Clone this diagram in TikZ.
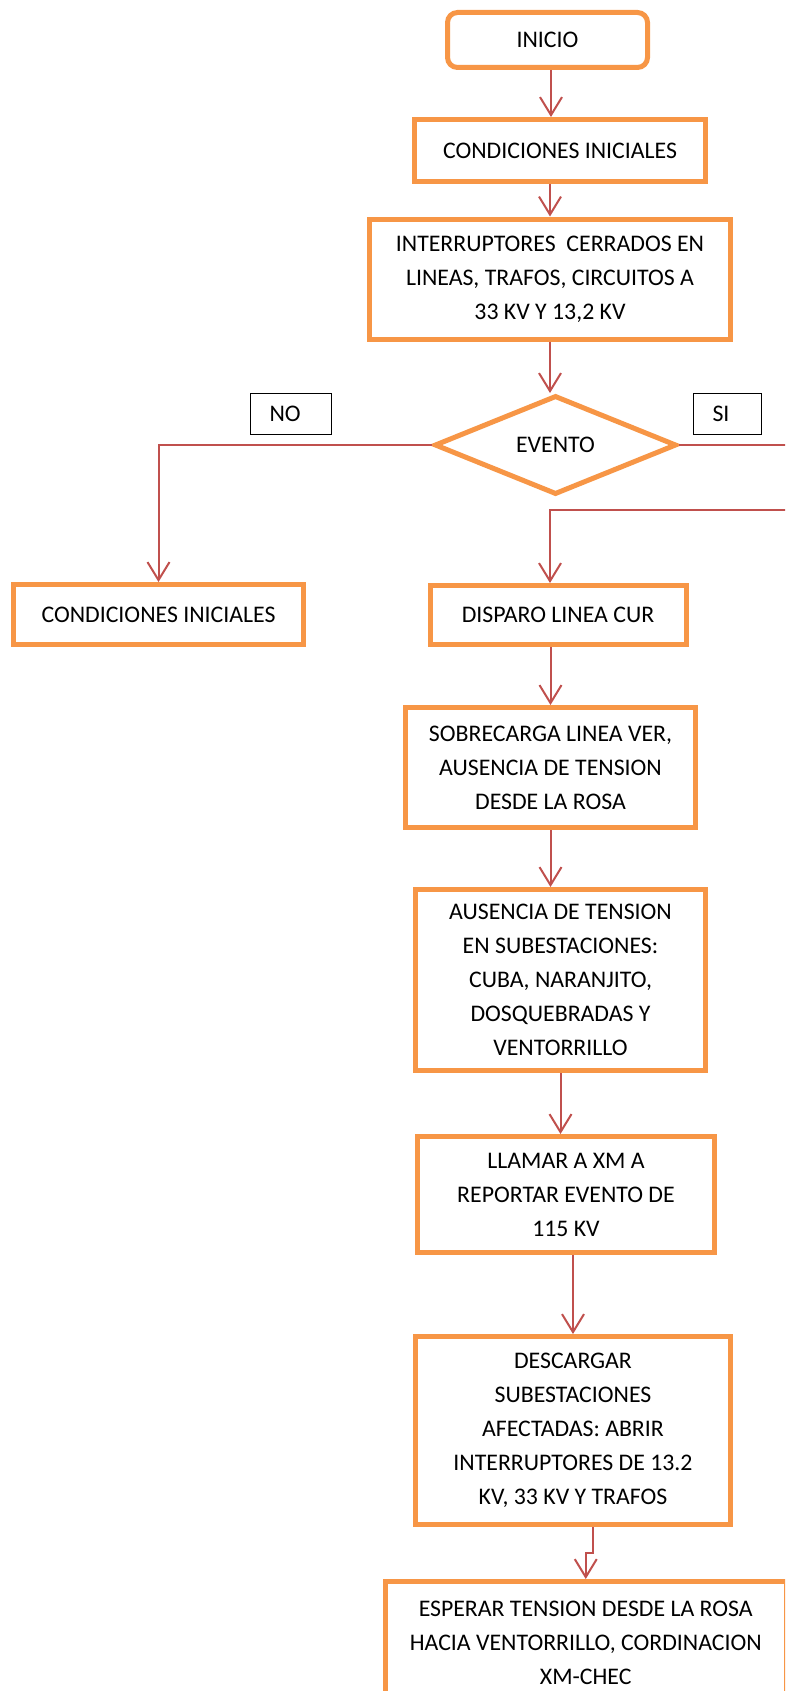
\documentclass[tikz,border=0pt]{standalone}
\usepackage{fontspec}
\setmainfont{Carlito}
\usetikzlibrary{shapes.geometric,arrows.meta}
\definecolor{naranja}{HTML}{F79646}
\definecolor{rojizo}{HTML}{C0504D}
\begin{document}
\begin{tikzpicture}[x=1pt, y=-1pt,
		caja/.style={draw=naranja, line width=5pt, fill=white, align=center, inner sep=0pt, font=\fontsize{23.8}{34}\selectfont},
		rombo/.style={diamond, draw=naranja, line width=5pt, fill=white, inner sep=0pt, aspect=2.4, font=\fontsize{23.8}{34}\selectfont},
		etiqueta/.style={draw=black, line width=1.2pt, fill=white, align=left, inner xsep=19pt, inner ysep=0pt, minimum height=41pt, font=\fontsize{23.8}{34}\selectfont},
		flecha/.style={draw=rojizo, line width=2pt, -{Straight Barb[length=18pt,width=22pt]}}]
			\useasboundingbox (0,0) rectangle (785,1691);
			\clip (0,0) rectangle (785,1691);% la hoja corta la caja final
			\node[caja, rounded corners=10pt, minimum width=200pt, minimum height=55pt] (inicio) at (547.5,40) {INICIO};
			\node[caja, minimum width=291pt, minimum height=62pt] (cond) at (560,150.5) {CONDICIONES INICIALES};
			\node[caja, minimum width=361pt, minimum height=120pt] (interr) at (550,279) {INTERRUPTORES \ CERRADOS EN\\LINEAS, TRAFOS, CIRCUITOS A\\33 KV Y 13,2 KV};
			\node[rombo, minimum width=242pt, minimum height=99pt] (evento) at (555.5,445) {EVENTO};
			\node[etiqueta, text width=43pt] (no) at (291,414) {NO};
			\node[etiqueta, text width=30pt] (si) at (727.5,414) {SI};
			\node[caja, minimum width=290pt, minimum height=60pt] (cond2) at (158.5,614.5) {CONDICIONES INICIALES};
			\node[caja, minimum width=256pt, minimum height=59pt] (disparo) at (558,615) {DISPARO LINEA CUR};
			\node[caja, minimum width=290pt, minimum height=120pt] (sobrec) at (550.5,767.5) {SOBRECARGA LINEA VER,\\AUSENCIA DE TENSION\\DESDE LA ROSA};
			\node[caja, minimum width=290pt, minimum height=181pt] (ausen) at (560.5,980) {AUSENCIA DE TENSION\\EN SUBESTACIONES:\\CUBA, NARANJITO,\\DOSQUEBRADAS Y\\VENTORRILLO};
			\node[caja, minimum width=297pt, minimum height=116pt] (llamar) at (566,1194.5) {LLAMAR A XM A\\REPORTAR EVENTO DE\\115 KV};
			\node[caja, minimum width=315pt, minimum height=188pt] (descar) at (573,1430.5) {DESCARGAR\\SUBESTACIONES\\AFECTADAS: ABRIR\\INTERRUPTORES DE 13.2\\KV, 33 KV Y TRAFOS};
			\node[caja, minimum width=400.5pt, minimum height=123pt] (esperar) at (585.75,1643) {ESPERAR TENSION DESDE LA ROSA\\HACIA VENTORRILLO, CORDINACION\\XM-CHEC};
			% flechas
			\coordinate (borde1) at (800,445);
			\coordinate (borde2) at (800,510);
			\coordinate (quiebre) at (593,1553);
			\draw[flecha] ([xshift=3.5pt]inicio.south) -- ([xshift=3.5pt]inicio.south |- cond.north);
			\draw[flecha] (interr.north |- cond.south) -- (interr.north);
			\draw[flecha] (interr.south) -- (interr.south |- evento.north);
			\draw[flecha] (evento.west) -| (cond2.north);
			\draw[flecha] (evento.east) -- (borde1) -- (borde2) -| ([xshift=-8pt]disparo.north);
			\draw[flecha] (sobrec.north |- disparo.south) -- (sobrec.north);
			\draw[flecha] (sobrec.south) -- (sobrec.south |- ausen.north);
			\draw[flecha] (ausen.south) -- (ausen.south |- llamar.north);
			\draw[flecha] (descar.north |- llamar.south) -- (descar.north);
			\draw[flecha] ([xshift=20pt]descar.south) -- (quiebre) -| (esperar.north);
		\end{tikzpicture}
\end{document}
